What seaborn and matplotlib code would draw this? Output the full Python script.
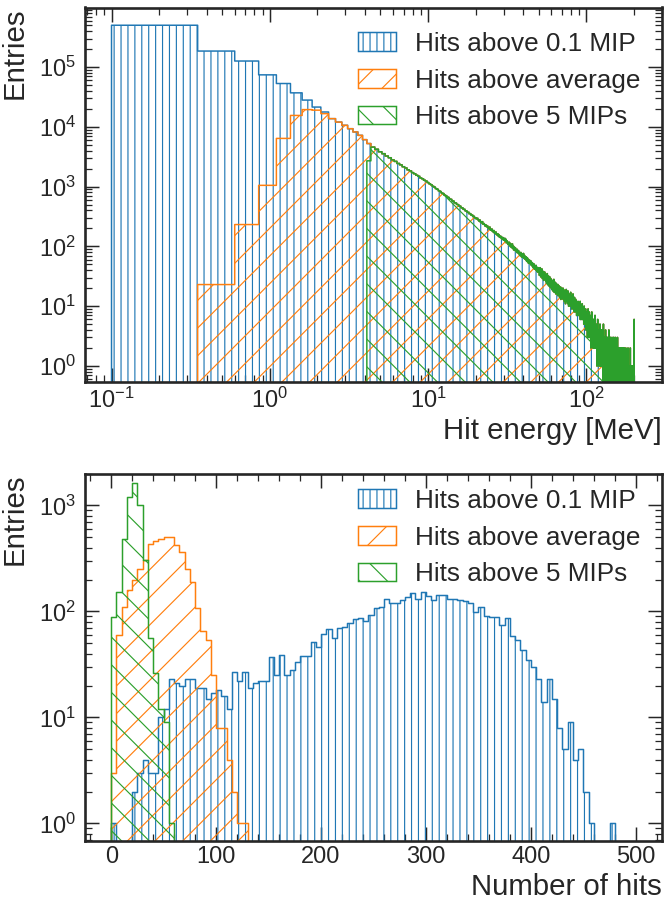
import numpy as np
import matplotlib
matplotlib.use("Agg")
import matplotlib.pyplot as plt
import seaborn as sns
from matplotlib.ticker import LogLocator, MultipleLocator, NullFormatter

# ---------------- data: hit energy (bins of 0.25 MeV from 0.1 MeV) ----------------
e_min = 0.1
e_width = 0.25
n_e_bins = 800

# first 17 bins (0.1 ... 4.35 MeV)
blue_low = [500000, 185000, 126000, 74000, 53000, 37000, 28000, 21400, 17700,
            13700, 12000, 10600, 9300, 8200, 7200, 6100, 5250]
orange_low = [0, 23, 232, 1050, 6400, 15500, 19400, 19000, 16600,
              13700, 12000, 10600, 9300, 8200, 7200, 6100, 5250]
green_low = [0, 0, 0, 0, 0, 0, 0, 0, 0, 0, 0, 0, 0, 0, 0, 0, 2700]

# common tail above 4.35 MeV
tail_4_10 = [4580, 4215, 3829, 3551, 3248, 3040, 2797, 2641, 2438, 2315, 2151, 2049,
             1911, 1829, 1712, 1641, 1547, 1488, 1398, 1352, 1279, 1236, 1170]
tail_10_20 = [1117, 1074, 1013, 981, 926, 899, 849, 826, 781, 764, 721, 706, 668, 657,
              619, 611, 576, 570, 538, 533, 504, 499, 472, 469, 444, 441, 417, 416, 394,
              392, 371, 372, 352, 353, 334, 335, 316, 318, 300, 301]
tail_20_30 = [288, 295, 279, 266, 275, 255, 248, 259, 236, 241, 232, 219, 227, 213, 218,
              204, 197, 210, 191, 187, 195, 180, 176, 184, 169, 165, 174, 160, 156, 163,
              150, 157, 144, 149, 140, 146, 135, 132, 140, 128]
tail_30_50 = [127, 136, 122, 131, 115, 124, 118, 109, 108, 117, 103, 112, 99, 107, 96, 110,
              93, 101, 88, 97, 86, 95, 90, 83, 81, 89, 78, 85, 84, 75, 79, 72,
              70, 79, 73, 67, 74, 66, 69, 76, 64, 71, 62, 68, 61, 67, 58, 65,
              56, 63, 59, 53, 60, 52, 55, 58, 51, 57, 49, 54, 48, 53, 46, 50,
              44, 51, 47, 42, 47, 43, 41, 48, 40, 45, 38, 44, 42, 37, 44, 39]
tail_50_100 = [41, 33, 38, 44, 35, 31, 39, 36, 42, 34, 29, 36, 31, 38, 27, 34, 30, 37, 32, 28,
               33, 26, 30, 24, 31, 35, 27, 29, 23, 32, 22, 28, 25, 31, 21, 27, 24, 29, 26, 20,
               25, 19, 27, 22, 24, 18, 26, 23, 28, 21, 17, 23, 20, 25, 19, 22, 16, 24, 21, 18,
               21, 16, 19, 23, 15, 20, 18, 22, 17, 19, 14, 19, 16, 21, 18, 13, 17, 20, 15, 18,
               18, 14, 17, 20, 13, 16, 19, 15, 17, 12, 16, 13, 18, 14, 11, 17, 15, 19, 12, 15,
               12, 16, 13, 15, 18, 11, 14, 16, 10, 14, 15, 11, 14, 12, 16, 10, 13, 17, 12, 13,
               11, 14, 9, 12, 15, 10, 13, 11, 16, 9, 12, 9, 13, 10, 8, 14, 11, 12, 9, 11,
               10, 13, 8, 11, 9, 12, 7, 10, 11, 9, 8, 11, 9, 12, 7, 10, 9, 8, 11, 10,
               9, 7, 10, 8, 12, 6, 9, 8, 10, 7, 7, 10, 8, 6, 9, 11, 7, 8, 6, 9,
               8, 6, 9, 7, 5, 8, 10, 6, 7, 8, 6, 8, 5, 7, 9, 6, 4, 7, 8, 6]
tail_100_200 = [7, 5, 4, 8, 6, 3, 7, 6, 5, 9, 4, 6, 7, 5, 3, 6, 8, 5, 6, 4,
                5, 3, 6, 4, 7, 5, 2, 4, 6, 5, 3, 8, 4, 5, 6, 3, 4, 5, 2, 6,
                4, 3, 5, 2, 4, 6, 3, 4, 2, 5, 3, 4, 7, 3, 2, 4, 5, 3, 4, 2,
                3, 4, 2, 3, 5, 1, 3, 4, 2, 3, 6, 2, 3, 4, 1, 3, 2, 4, 3, 2,
                2, 3, 4, 1, 3, 2, 5, 3, 2, 1, 3, 4, 2, 3, 2, 1, 4, 3, 2, 3,
                3, 1, 2, 4, 2, 1, 3, 2, 0, 3, 2, 5, 1, 2, 3, 2, 1, 3, 2, 2,
                2, 1, 3, 2, 0, 2, 1, 4, 2, 1, 2, 3, 1, 0, 2, 3, 1, 2, 2, 1,
                1, 2, 0, 3, 2, 1, 2, 1, 3, 0, 2, 1, 2, 4, 1, 2, 0, 2, 1, 2,
                2, 1, 1, 0, 3, 1, 2, 1, 0, 2, 1, 3, 1, 2, 0, 1, 2, 1, 2, 1,
                1, 2, 0, 1, 2, 1, 0, 3, 1, 2, 1, 1, 0, 2, 1, 3, 1, 0, 2, 1,
                1, 0, 2, 1, 1, 0, 2, 1, 0, 3, 1, 1, 2, 0, 1, 1, 2, 0, 1, 2,
                0, 1, 2, 1, 0, 1, 1, 3, 0, 1, 2, 0, 1, 1, 0, 2, 1, 1, 0, 1,
                1, 1, 0, 2, 1, 0, 1, 1, 0, 2, 1, 0, 1, 2, 0, 1, 1, 0, 1, 1,
                0, 1, 1, 0, 2, 1, 0, 1, 1, 0, 1, 2, 0, 1, 0, 1, 1, 0, 2, 0,
                1, 0, 1, 1, 0, 0, 2, 1, 0, 1, 1, 0, 1, 0, 2, 0, 1, 1, 0, 1,
                0, 1, 0, 1, 1, 0, 0, 1, 2, 0, 1, 0, 1, 0, 1, 1, 0, 0, 1, 1,
                1, 0, 1, 0, 0, 1, 1, 0, 1, 0, 0, 2, 0, 1, 0, 1, 0, 1, 1, 0,
                0, 1, 0, 0, 1, 0, 1, 0, 0, 1, 1, 0, 0, 1, 0, 0, 2, 0, 1, 0,
                1, 0, 0, 1, 0, 0, 1, 0, 1, 0, 0, 1, 0, 0, 1, 0, 1, 0, 0, 1,
                0, 0, 1, 0, 1, 0, 0, 0, 1, 0, 0, 1, 0, 0, 1, 0, 0, 1, 0, 6]

# ---------------- data: number of hits per event (bins of 5 from 0) ----------------
hits_width = 5
hits_blue = [1, 0, 0, 0, 2, 3, 4, 3, 3, 10, 12, 23, 21, 20, 23, 23, 19, 19, 15, 17,
             18, 16, 12, 27, 22, 27, 19, 21, 22, 22, 37, 25, 39, 25, 28, 33, 38, 38, 52, 46,
             61, 68, 56, 69, 72, 78, 84, 86, 81, 92, 107, 110, 132, 119, 119, 129, 137, 150, 132, 151,
             139, 129, 143, 143, 132, 132, 129, 126, 120, 99, 110, 90, 88, 89, 74, 86, 58, 54, 43, 35,
             30, 23, 14, 23, 15, 8, 5, 9, 4, 5, 2, 1, 0, 0, 0, 1, 0, 0, 0, 0]
hits_orange = [3, 60, 110, 159, 197, 249, 303, 435, 463, 479, 505, 500, 422, 364, 249, 190,
               107, 66, 54, 25, 8, 8, 4, 2, 1, 1] + [0] * 74
hits_green = [89, 153, 478, 1200, 1630, 1000, 303, 56, 26, 12, 9, 1] + [0] * 88

labels = ["Hits above 0.1 MIP", "Hits above average", "Hits above 5 MIPs"]
colors = ["#1f77b4", "#ff7f0e", "#2ca02c"]
hatches = ["||", "/", "\\"]

# ---------------- assemble ----------------
tail = tail_4_10 + tail_10_20 + tail_20_30 + tail_30_50 + tail_50_100 + tail_100_200
e_counts = [np.array(blue_low + tail, float),
            np.array(orange_low + tail, float),
            np.array(green_low + tail, float)]
e_edges = e_min + e_width * np.arange(n_e_bins + 1)
h_counts = [np.array(hits_blue, float), np.array(hits_orange, float), np.array(hits_green, float)]
h_edges = hits_width * np.arange(len(hits_blue) + 1.0)

sns.set_theme(style="ticks")
plt.rcParams["font.family"] = ["Liberation Sans", "DejaVu Sans"]
plt.rcParams["mathtext.fontset"] = "custom"
plt.rcParams["mathtext.rm"] = "Liberation Sans"
plt.rcParams["mathtext.it"] = "Liberation Sans:italic"
plt.rcParams["mathtext.bf"] = "Liberation Sans:bold"
plt.rcParams["hatch.linewidth"] = 1.0
plt.rcParams["axes.linewidth"] = 2.3

DPI = 83
W, H = 664, 901
fig = plt.figure(figsize=(W / DPI, H / DPI), dpi=DPI)
ax1 = fig.add_axes([85 / W, 1 - 381.5 / H, 577 / W, 374 / H])
ax2 = fig.add_axes([85 / W, 1 - 840.5 / H, 577 / W, 367 / H])


def draw(ax, edges, counts, color, hatch, label):
    centers = 0.5 * (edges[:-1] + edges[1:])
    sns.histplot(x=centers, weights=counts, bins=list(edges), element="step", fill=True,
                 color=color, facecolor="none", edgecolor=color, hatch=hatch,
                 linewidth=1.3, label=label, ax=ax)


for cnt, c, h, lab in zip(e_counts, colors, hatches, labels):
    draw(ax1, e_edges, cnt, c, h, lab)
for cnt, c, h, lab in zip(h_counts, colors, hatches, labels):
    draw(ax2, h_edges, cnt, c, h, lab)

TICK = 20.5
LAB = 25.5
LEG = 22.7

ax1.set_xscale("log")
ax1.set_yscale("log")
ax1.set_xlim(0.068, 300)
ax1.set_ylim(0.55, 9.9e5)
ax2.set_yscale("log")
ax2.set_xlim(-25, 525)
ax2.set_ylim(0.69, 2000)

for ax, ytop in ((ax1, 0.963), (ax2, 0.987)):
    ax.yaxis.set_major_locator(LogLocator(base=10, numticks=30))
    ax.yaxis.set_minor_locator(LogLocator(base=10, subs=np.arange(2, 10), numticks=30))
    ax.yaxis.set_minor_formatter(NullFormatter())
    ax.tick_params(which="both", direction="in", top=True, right=True, labelsize=TICK)
    ax.tick_params(which="major", length=12, width=1.3)
    ax.tick_params(which="minor", length=6.5, width=1.1)
    ax.tick_params(axis="y", which="major", pad=8)
    ax.tick_params(axis="x", which="major", pad=5)
    ax.set_ylabel("Entries", fontsize=LAB, loc="top")
    ax.yaxis.set_label_coords(-0.097, 1.0)
    ax.legend(loc="upper right", bbox_to_anchor=(0.9815, ytop), frameon=False,
              fontsize=LEG, handlelength=1.45, handleheight=0.7, handletextpad=0.75,
              labelspacing=0.49, borderaxespad=0.0)

ax1.xaxis.set_major_locator(LogLocator(base=10, numticks=30))
ax1.xaxis.set_minor_locator(LogLocator(base=10, subs=np.arange(2, 10), numticks=30))
ax1.xaxis.set_minor_formatter(NullFormatter())
ax2.xaxis.set_major_locator(MultipleLocator(100))
ax2.xaxis.set_minor_locator(MultipleLocator(20))

ax1.set_xlabel("Hit energy [MeV]", fontsize=LAB, loc="right")
ax1.xaxis.set_label_coords(1.0, -0.095)
ax2.set_xlabel("Number of hits", fontsize=LAB, loc="right")
ax2.xaxis.set_label_coords(1.0, -0.088)

fig.savefig("out.png", dpi=DPI)
